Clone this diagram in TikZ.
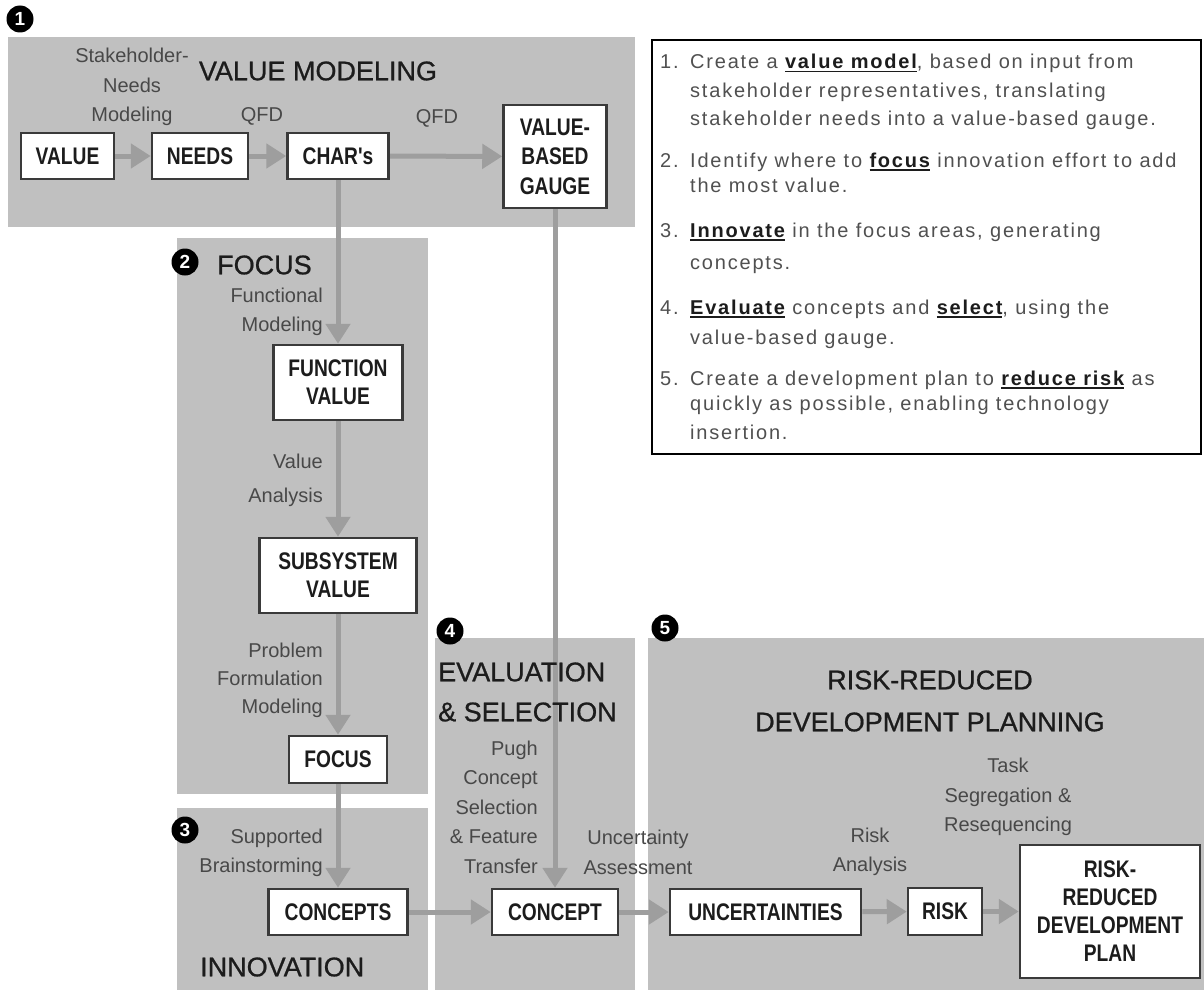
\documentclass[tikz,border=0pt]{standalone}
\usepackage{fontspec}
\setmainfont{Liberation Sans}
\newfontfamily\boxfont[FakeStretch=0.8]{Liberation Sans}
\newfontfamily\notefont[LetterSpace=9]{Liberation Sans}
\newfontfamily\titlefont[FakeBold=0.8]{Liberation Sans}
\usetikzlibrary{arrows.meta,backgrounds}

\definecolor{panelgray}{RGB}{192,192,192}
\definecolor{arrowgray}{RGB}{158,158,158}
\definecolor{labelgray}{RGB}{72,72,72}
\definecolor{boxedge}{RGB}{58,58,58}
\definecolor{inkdark}{RGB}{28,28,28}
\definecolor{notegray}{RGB}{80,80,80}

% bold, underlined key term in the summary list
\newsavebox\keybox
\newcommand\keyword[1]{{\color{inkdark}\sbox\keybox{\bfseries #1}%
  \rlap{\raisebox{-3.5pt}{\rule{\wd\keybox}{1.6pt}}}\usebox\keybox}}

\tikzset{
  panel/.style={fill=panelgray, draw=none},
  stepbox/.style={draw=boxedge, line width=2.5pt, fill=white, inner sep=0pt,
    align=center, text=inkdark,
    font=\boxfont\bfseries\fontsize{24}{28}\selectfont},
  flow/.style={draw=arrowgray, line width=5pt,
    -{Triangle[width=24pt,length=20pt]}},
  lbl/.style={font=\fontsize{20}{29.5}\selectfont, text=labelgray, inner sep=0pt},
  title/.style={font=\titlefont\fontsize{27}{40}\selectfont, text=inkdark, inner sep=0pt},
  badge/.style={circle, fill=black, text=white, inner sep=0pt, minimum size=27pt,
    font=\bfseries\fontsize{19}{19}\selectfont},
  noteline/.style={anchor=base west, inner sep=0pt, text=notegray,
    font=\notefont\fontsize{20}{20}\selectfont},
}

\begin{document}
\begin{tikzpicture}[x=1pt,y=-1pt]
\useasboundingbox (0,0) rectangle (1204,990);

% ---- process steps ----
\node[stepbox, minimum width=93pt,  minimum height=46pt]  (value)    at (67.5,156)  {VALUE};
\node[stepbox, minimum width=96pt,  minimum height=46pt]  (needs)    at (200,156)   {NEEDS};
\node[stepbox, minimum width=101pt, minimum height=46pt]  (chars)    at (338,156)   {CHAR's};
\node[stepbox, minimum width=103pt, minimum height=103pt,
      font=\boxfont\bfseries\fontsize{24}{29.5}\selectfont]
                                                          (gauge)    at (555,156.5) {VALUE-\\BASED\\GAUGE};
\node[stepbox, minimum width=129pt, minimum height=75pt]  (fv)       at (338,382.5) {FUNCTION\\VALUE};
\node[stepbox, minimum width=157pt, minimum height=75pt]  (sv)       at (338,575.5) {SUBSYSTEM\\VALUE};
\node[stepbox, minimum width=98pt,  minimum height=47pt]  (focus)    at (338,759.5) {FOCUS};
\node[stepbox, minimum width=139pt, minimum height=46pt]  (concepts) at (338,912)   {CONCEPTS};
\node[stepbox, minimum width=126pt, minimum height=46pt]  (concept)  at (555,912)   {CONCEPT};
\node[stepbox, minimum width=191pt, minimum height=46pt]  (unc)      at (765.5,912) {UNCERTAINTIES};
\node[stepbox, minimum width=74pt,  minimum height=47pt]  (risk)     at (945,911.5) {RISK};
\node[stepbox, minimum width=180pt, minimum height=133pt] (plan)     at (1110,911.5) {RISK-\\REDUCED\\DEVELOPMENT\\PLAN};

% ---- shaded phase panels and connectors ----
\begin{scope}[on background layer]
  \fill[panel] (8,37)    rectangle (635,227);
  \fill[panel] (177,238) rectangle (428,794);
  \fill[panel] (177,808) rectangle (428,990);
  \fill[panel] (435,638) rectangle (635,990);
  \fill[panel] (648,638) rectangle (1204,990);

  \draw[flow] (value) -- (needs);
  \draw[flow] (needs) -- (chars);
  \draw[flow] (chars) -- (gauge);
  \draw[flow] (chars) -- (fv);
  \draw[flow] (fv) -- (sv);
  \draw[flow] (sv) -- (focus);
  \draw[flow] (focus) -- (concepts);
  \draw[flow] (gauge) -- (concept);
  \draw[flow] (concepts) -- (concept);
  \draw[flow] (concept) -- (unc);
  \draw[flow] (unc) -- (risk);
  \draw[flow] (risk) -- (plan);
\end{scope}

% ---- phase badges ----
\node[badge] (b1) at (20,19)   {1};
\node[badge] (b2) at (185,262) {2};
\node[badge] (b3) at (185,830) {3};
\node[badge] (b4) at (450,631) {4};
\node[badge] (b5) at (665,628) {5};

% ---- phase titles ----
\node[title] (t1) at (318,71) {VALUE MODELING};
\node[title, anchor=west] (t2) at (217,265) {FOCUS};
\node[title, anchor=west] (t3) at (200,967) {INNOVATION};
\node[title, anchor=west, align=left] (t4) at (438,692) {EVALUATION\\\& SELECTION};
\node[title, align=center, font=\titlefont\fontsize{27}{42}\selectfont] (t5) at (930,701)
  {RISK-REDUCED\\DEVELOPMENT PLANNING};

% ---- method labels ----
\node[lbl, align=center] (l1) at (132,87) {Stakeholder-\\Needs\\Modeling};
\node[lbl] (l2) at (262,116) {QFD};
\node[lbl] (l3) at (437,118) {QFD};
\node[lbl, anchor=east, align=right] (l4) at (323,312) {Functional\\Modeling};
\node[lbl, anchor=east, align=right, font=\fontsize{20}{34}\selectfont] (l5) at (323,480) {Value\\Analysis};
\node[lbl, anchor=east, align=right, font=\fontsize{20}{28}\selectfont] (l6) at (323,680) {Problem\\Formulation\\Modeling};
\node[lbl, anchor=east, align=right] (l7) at (323,853) {Supported\\Brainstorming};
\node[lbl, anchor=east, align=right] (l8) at (538,807) {Pugh\\Concept\\Selection\\\& Feature\\Transfer};
\node[lbl, align=center] (l9) at (638,852.5) {Uncertainty\\Assessment};
\node[lbl, align=center] (l10) at (870,852) {Risk\\Analysis};
\node[lbl, align=center] (l11) at (1008,797) {Task\\Segregation \&\\Resequencing};

% ---- summary box ----
\node[draw=black, line width=2.5pt, fill=white, minimum width=549pt, minimum height=414pt,
      inner sep=0pt] (notes) at (926.5,247) {};
\node[noteline] (n1)  at (660,69)  {1.};
\node[noteline] (n1a) at (690,69)  {Create a \keyword{value model}, based on input from};
\node[noteline] (n1b) at (690,97)  {stakeholder representatives, translating};
\node[noteline] (n1c) at (690,125) {stakeholder needs into a value-based gauge.};
\node[noteline] (n2)  at (660,167) {2.};
\node[noteline] (n2a) at (690,167) {Identify where to \keyword{focus} innovation effort to add};
\node[noteline] (n2b) at (690,192) {the most value.};
\node[noteline] (n3)  at (660,237) {3.};
\node[noteline] (n3a) at (690,237) {\keyword{Innovate} in the focus areas, generating};
\node[noteline] (n3b) at (690,269) {concepts.};
\node[noteline] (n4)  at (660,314) {4.};
\node[noteline] (n4a) at (690,314) {\keyword{Evaluate} concepts and \keyword{select}, using the};
\node[noteline] (n4b) at (690,344) {value-based gauge.};
\node[noteline] (n5)  at (660,385) {5.};
\node[noteline] (n5a) at (690,385) {Create a development plan to \keyword{reduce risk} as};
\node[noteline] (n5b) at (690,410) {quickly as possible, enabling technology};
\node[noteline] (n5c) at (690,439) {insertion.};
\end{tikzpicture}
\end{document}
